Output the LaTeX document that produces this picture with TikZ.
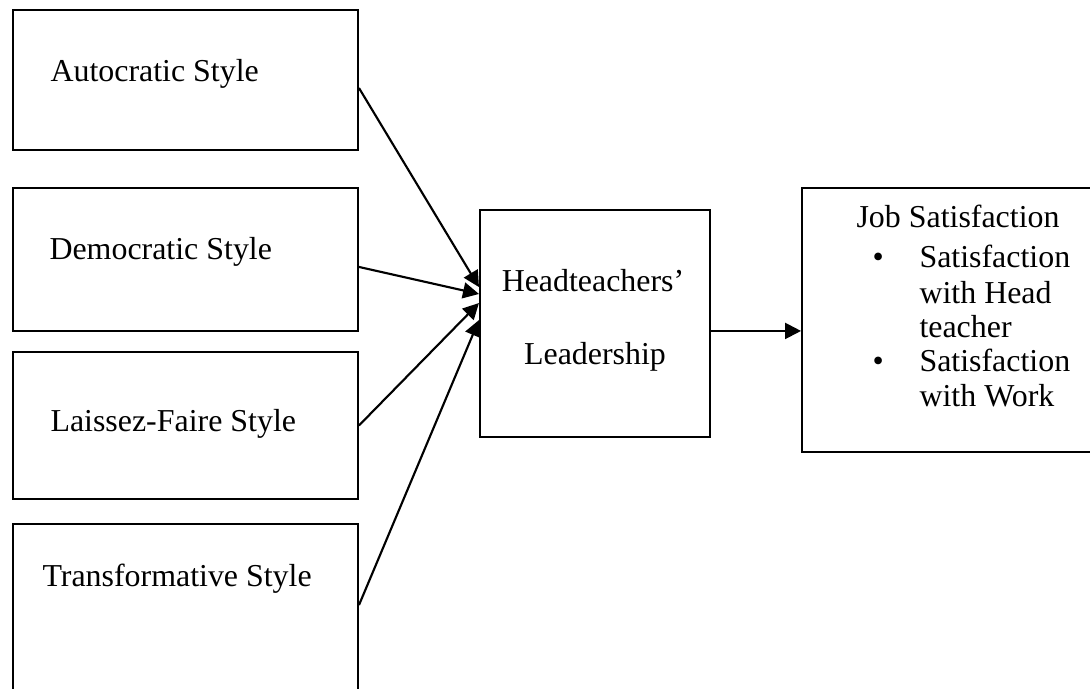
\documentclass[tikz,border=0pt]{standalone}
\usepackage{fontspec}
\setmainfont{Liberation Serif}
\usetikzlibrary{arrows.meta}

\begin{document}
\begin{tikzpicture}
[x=0.376pt, y=-0.376pt,
  boxdecorate/.style={draw, line width=0.75pt, inner sep=0pt},%
  linedecorate/.style={-{Triangle[length=6pt,width=6pt]}, line width=0.8pt},%
  textdecorate/.style={anchor=base west, inner sep=0pt, font=\fontsize{12}{13}\selectfont}]
\useasboundingbox (0,0) rectangle (1090,689);
%% boxes
\foreach \nodename/\x/\y/\w/\h in {auto/185.5/80/129.7/52.6,
  demo/185.5/259.5/129.7/53.8, lais/185.5/425.5/129.7/55.3,
  trans/185.5/612/129.7/66.2, head/595/323.5/86.5/85.4, job/951/320/112/99.3} {
  \node (\nodename) at (\x,\y) [boxdecorate, minimum width=\w pt, minimum height=\h pt] {};
}
%% texts
\foreach \nodename/\x/\y/\nodetext in {autotext/50/82/Autocratic Style,
  demotext/49/260/Democratic Style, laistext/50/432/Laissez-Faire Style,
  transtext/42/587/Transformative Style, jobtitle/856/228/Job Satisfaction,
  jobbulleta/872/268/\textbullet, jobitema/919/268/Satisfaction,
  jobitemb/919/304/with Head, jobitemc/919/338/teacher,
  jobbulletb/872/372/\textbullet, jobitemd/919/372/Satisfaction,
  jobiteme/919/407/with Work} {
  \node (\nodename) at (\x,\y) [textdecorate] {\nodetext};
}
\node (headtexta) at (593,292) [textdecorate, anchor=base] {Headteachers’};
\node (headtextb) at (595,365) [textdecorate, anchor=base] {Leadership};
%% edges
\path
\foreach \startnode/\startshift/\endshift in {auto/-3/13.7, demo/-2.8/11.1,
  lais/0/7.7, trans/2.6/1.3} {
  ([yshift=\startshift pt]\startnode.east) edge[linedecorate] ([yshift=\endshift pt]head.west)
};
\path ([yshift=-2.8pt]head.east) edge[linedecorate] ([yshift=-2.8pt]head.east -| job.west);
\end{tikzpicture}
\end{document}
